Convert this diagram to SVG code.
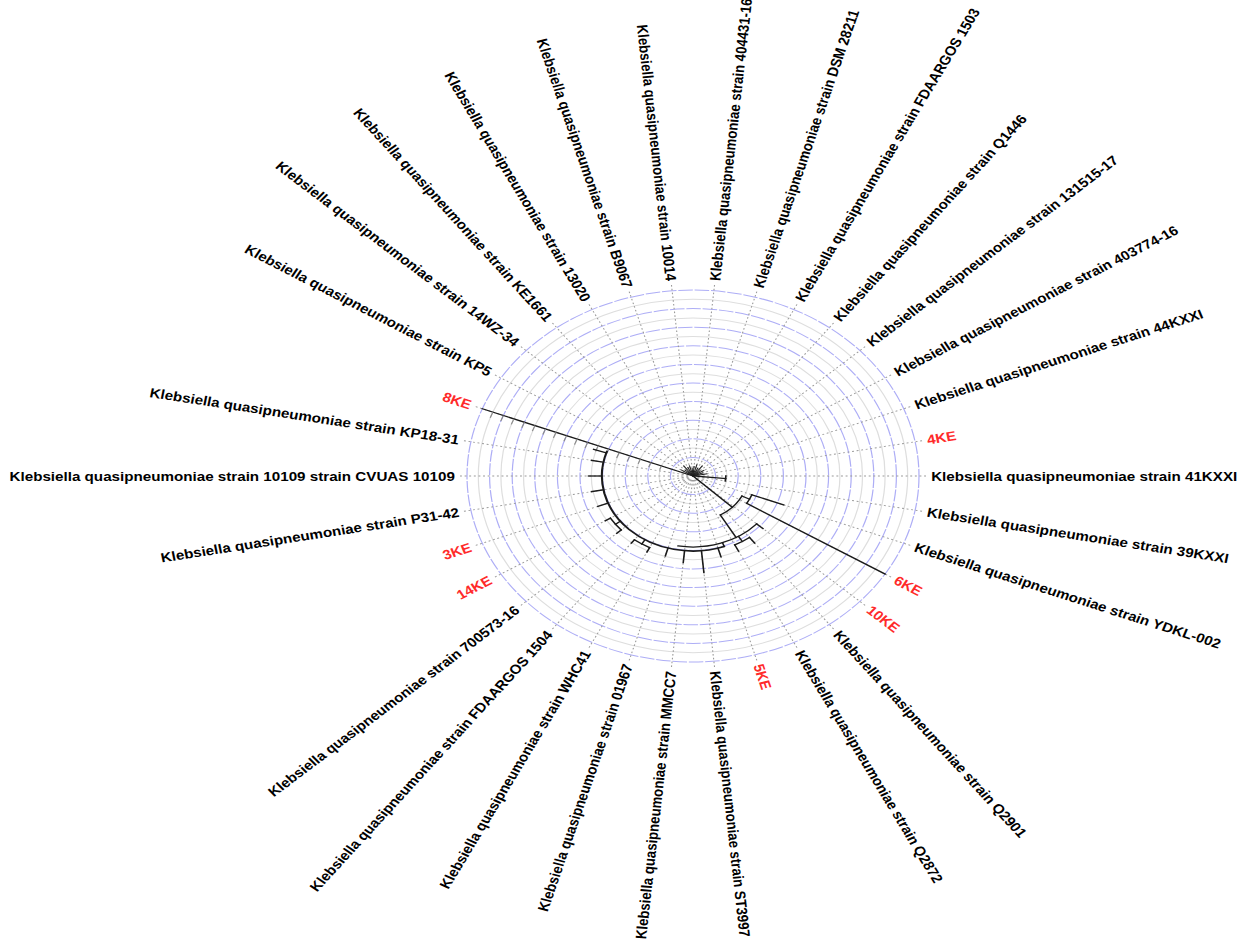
<svg xmlns="http://www.w3.org/2000/svg" width="1248" height="945" viewBox="0 0 1248 945">
<style>
.rg{fill:none;stroke:#dedede;stroke-width:1}
.rb{fill:none;stroke:#aeaef6;stroke-width:1;stroke-dasharray:12 1.5}
.rad{stroke:#9a9a9a;stroke-width:0.9;stroke-dasharray:1.6 2.2}
.br{stroke:#1a1a1a;stroke-width:1.3;fill:none;stroke-linecap:square}
.sb{stroke:#222;stroke-width:0.9}
.tk{stroke:#8a8a8a;stroke-width:1}
.lab{font-family:"Liberation Sans",Arial,sans-serif;font-weight:bold;font-size:13.2px;fill:#000}
.red{font-family:"Liberation Sans",Arial,sans-serif;font-weight:bold;font-size:13.2px;fill:#ff2a2a}
</style>
<rect width="1248" height="945" fill="#fff"/>
<g transform="translate(693,476) scale(1.215,1)">
<g id="rings">
<circle class="rg" r="9.3"/><circle class="rb" r="18.6"/><circle class="rg" r="27.9"/><circle class="rb" r="37.2"/>
<circle class="rg" r="46.5"/><circle class="rb" r="55.8"/><circle class="rg" r="65.1"/><circle class="rb" r="74.4"/>
<circle class="rg" r="83.7"/><circle class="rb" r="93"/><circle class="rg" r="102.3"/><circle class="rb" r="111.6"/>
<circle class="rg" r="120.9"/><circle class="rb" r="130.2"/><circle class="rg" r="139.5"/><circle class="rb" r="148.8"/>
<circle class="rg" r="158.1"/><circle class="rb" r="167.4"/><circle class="rg" r="176.7"/><circle class="rb" r="186"/>
</g>
<g id="radials">
<line class="rad" x1="4" x2="194" transform="rotate(-84.7)"/>
<line class="rad" x1="4" x2="194" transform="rotate(-74.1)"/>
<line class="rad" x1="4" x2="194" transform="rotate(-63.5)"/>
<line class="rad" x1="4" x2="194" transform="rotate(-52.9)"/>
<line class="rad" x1="4" x2="194" transform="rotate(-42.4)"/>
<line class="rad" x1="4" x2="194" transform="rotate(-31.8)"/>
<line class="rad" x1="4" x2="194" transform="rotate(-21.2)"/>
<line class="rad" x1="4" x2="194" transform="rotate(-10.6)"/>
<line class="rad" x1="4" x2="194" transform="rotate(0)"/>
<line class="rad" x1="4" x2="194" transform="rotate(10.6)"/>
<line class="rad" x1="4" x2="194" transform="rotate(21.2)"/>
<line class="rad" x1="4" x2="194" transform="rotate(31.8)"/>
<line class="rad" x1="4" x2="194" transform="rotate(42.4)"/>
<line class="rad" x1="4" x2="194" transform="rotate(52.9)"/>
<line class="rad" x1="4" x2="194" transform="rotate(63.5)"/>
<line class="rad" x1="4" x2="194" transform="rotate(74.1)"/>
<line class="rad" x1="4" x2="194" transform="rotate(84.7)"/>
<line class="rad" x1="4" x2="194" transform="rotate(95.3)"/>
<line class="rad" x1="4" x2="194" transform="rotate(105.9)"/>
<line class="rad" x1="4" x2="194" transform="rotate(116.5)"/>
<line class="rad" x1="4" x2="194" transform="rotate(127.1)"/>
<line class="rad" x1="4" x2="194" transform="rotate(137.6)"/>
<line class="rad" x1="4" x2="194" transform="rotate(148.2)"/>
<line class="rad" x1="4" x2="194" transform="rotate(158.8)"/>
<line class="rad" x1="4" x2="194" transform="rotate(169.4)"/>
<line class="rad" x1="4" x2="194" transform="rotate(180)"/>
<line class="rad" x1="4" x2="194" transform="rotate(190.6)"/>
<line class="rad" x1="4" x2="194" transform="rotate(201.2)"/>
<line class="rad" x1="4" x2="194" transform="rotate(211.8)"/>
<line class="rad" x1="4" x2="194" transform="rotate(222.4)"/>
<line class="rad" x1="4" x2="194" transform="rotate(232.9)"/>
<line class="rad" x1="4" x2="194" transform="rotate(243.5)"/>
<line class="rad" x1="4" x2="194" transform="rotate(254.1)"/>
<line class="rad" x1="4" x2="194" transform="rotate(264.7)"/>
</g>
<g id="connectors">
<line class="sb" x2="10" transform="rotate(-84.7)"/>
<line class="sb" x2="12" transform="rotate(-74.1)"/>
<line class="sb" x2="9" transform="rotate(-63.5)"/>
<line class="sb" x2="13" transform="rotate(-52.9)"/>
<line class="sb" x2="8" transform="rotate(-42.4)"/>
<line class="sb" x2="11" transform="rotate(-31.8)"/>
<line class="sb" x2="9" transform="rotate(-21.2)"/>
<line class="sb" x2="12" transform="rotate(-10.6)"/>
<line class="sb" x2="12" transform="rotate(211.8)"/>
<line class="sb" x2="9" transform="rotate(222.4)"/>
<line class="sb" x2="13" transform="rotate(232.9)"/>
<line class="sb" x2="10" transform="rotate(243.5)"/>
<line class="sb" x2="11" transform="rotate(254.1)"/>
<line class="sb" x2="8" transform="rotate(264.7)"/>
<line class="br" x2="27" transform="rotate(5.3)"/>
<path class="br" d="M27,0 A27,27 0 0 1 26.54,4.97"/>
<line class="br" x2="186" transform="rotate(201.2)"/>
<g class="tk" transform="rotate(201.2)">
<line x1="27.9" x2="27.9" y2="-4"/><line x1="37.2" x2="37.2" y2="-5"/><line x1="46.5" x2="46.5" y2="-5"/>
<line x1="55.8" x2="55.8" y2="-6"/><line x1="65.1" x2="65.1" y2="-6"/><line x1="74.4" x2="74.4" y2="-6"/>
<line x1="83.7" x2="83.7" y2="-6"/><line x1="93" x2="93" y2="-6"/><line x1="102.3" x2="102.3" y2="-6"/>
<line x1="111.6" x2="111.6" y2="-6"/><line x1="120.9" x2="120.9" y2="-6"/><line x1="130.2" x2="130.2" y2="-6"/>
<line x1="139.5" x2="139.5" y2="-6"/><line x1="148.8" x2="148.8" y2="-6"/><line x1="158.1" x2="158.1" y2="-6"/>
<line x1="167.4" x2="167.4" y2="-6"/><line x1="176.7" x2="176.7" y2="-6"/>
</g>
<line class="br" x2="45" transform="rotate(44)"/>
<path class="br" d="M40.27,20.08 A45,45 0 0 1 22.5,38.97"/>
<line class="br" x1="45" x2="52" transform="rotate(26.5)"/>
<path class="br" d="M48.48,18.80 A52,52 0 0 1 44.19,27.40"/>
<line class="br" x1="52" x2="80" transform="rotate(21.2)"/>
<line class="br" x1="52" x2="186" transform="rotate(31.8)"/>
<line class="br" x1="45" x2="71" transform="rotate(60)"/>
<path class="br" d="M52.43,47.87 A71,71 0 0 1 -12.33,69.92"/>
<line class="br" x1="71" x2="78" transform="rotate(42.4)"/>
<line class="br" x1="71" x2="77" transform="rotate(58.2)"/>
<path class="br" d="M46.45,61.42 A77,77 0 0 1 34.36,68.91"/>
<line class="br" x1="77" x2="84" transform="rotate(52.9)"/>
<line class="br" x1="77" x2="84" transform="rotate(63.5)"/>
<line class="br" x1="71" x2="75" transform="rotate(70)"/>
<path class="br" style="stroke-width:1.7" d="M25.65,70.48 A75,75 0 0 1 -70.91,-24.42"/>
<line class="br" x1="75" x2="84" transform="rotate(74.1)"/>
<line class="br" x1="75" x2="97" transform="rotate(84.7)"/>
<line class="br" x1="75" x2="87" transform="rotate(95.3)"/>
<line class="br" x1="75" x2="83" transform="rotate(105.9)"/>
<line class="br" x1="75" x2="80" transform="rotate(121.8)"/>
<path class="br" d="M-35.70,71.59 A80,80 0 0 1 -48.26,63.81"/>
<line class="br" x1="80" x2="85" transform="rotate(116.5)"/>
<line class="br" x1="80" x2="84" transform="rotate(127.1)"/>
<line class="br" x1="75" x2="80" transform="rotate(142.9)"/>
<path class="br" d="M-59.08,53.94 A80,80 0 0 1 -67.99,42.16"/>
<line class="br" x1="80" x2="85" transform="rotate(137.6)"/>
<line class="br" x1="80" x2="85" transform="rotate(148.2)"/>
<line class="br" x1="75" x2="84" transform="rotate(158.8)"/>
<line class="br" x1="75" x2="85" transform="rotate(169.4)"/>
<line class="br" x1="75" x2="86" transform="rotate(180)"/>
<line class="br" x1="75" x2="85" transform="rotate(190.6)"/>
<line class="br" x1="75" x2="86" transform="rotate(198)"/>
</g>
</g>
<g transform="translate(693,476) scale(1.15,1)">
<g id="leaf01"><text class="lab" dy="0.35em" transform="translate(19.13,-195.16) rotate(-84.40)">Klebsiella quasipneumoniae strain 404431-16</text></g>
<g id="leaf02"><text class="lab" dy="0.35em" transform="translate(56.75,-188.49) rotate(-73.25)">Klebsiella quasipneumoniae strain DSM 28211</text></g>
<g id="leaf03"><text class="lab" dy="0.35em" transform="translate(92.41,-175.40) rotate(-62.22)">Klebsiella quasipneumoniae strain FDAARGOS 1503</text></g>
<g id="leaf04"><text class="lab" dy="0.35em" transform="translate(124.92,-156.33) rotate(-51.37)">Klebsiella quasipneumoniae strain Q1446</text></g>
<g id="leaf05"><text class="lab" dy="0.35em" transform="translate(152.94,-132.16) rotate(-40.84)">Klebsiella quasipneumoniae strain 131515-17</text></g>
<g id="leaf06"><text class="lab" dy="0.35em" transform="translate(176.01,-103.29) rotate(-30.41)">Klebsiella quasipneumoniae strain 403774-16</text></g>
<g id="leaf07"><text class="lab" dy="0.35em" transform="translate(193.08,-70.87) rotate(-20.16)">Klebsiella quasipneumoniae strain 44KXXI</text></g>
<g id="leaf08"><text class="red" dy="0.35em" transform="translate(203.56,-36.06) rotate(-10.05)">4KE</text></g>
<g id="leaf09"><text class="lab" dy="0.35em" transform="translate(207.1,0)">Klebsiella quasipneumoniae strain 41KXXI</text></g>
<g id="leaf10"><text class="lab" dy="0.35em" transform="translate(203.56,36.06) rotate(10.05)">Klebsiella quasipneumoniae strain 39KXXI</text></g>
<g id="leaf11"><text class="lab" dy="0.35em" transform="translate(193.08,70.87) rotate(20.16)">Klebsiella quasipneumoniae strain YDKL-002</text></g>
<g id="leaf12"><text class="red" dy="0.35em" transform="translate(176.01,103.29) rotate(30.41)">6KE</text></g>
<g id="leaf13"><text class="red" dy="0.35em" transform="translate(152.94,132.16) rotate(40.84)">10KE</text></g>
<g id="leaf14"><text class="lab" dy="0.35em" transform="translate(124.92,156.33) rotate(51.37)">Klebsiella quasipneumoniae strain Q2901</text></g>
<g id="leaf15"><text class="lab" dy="0.35em" transform="translate(92.41,175.40) rotate(62.22)">Klebsiella quasipneumoniae strain Q2872</text></g>
<g id="leaf16"><text class="red" dy="0.35em" transform="translate(56.75,188.49) rotate(73.25)">5KE</text></g>
<g id="leaf17"><text class="lab" dy="0.35em" transform="translate(19.13,195.16) rotate(84.40)">Klebsiella quasipneumoniae strain ST3997</text></g>
<g id="leaf18"><text class="lab" dy="0.35em" text-anchor="end" transform="translate(-19.13,195.16) rotate(-84.40)">Klebsiella quasipneumoniae strain MMCC7</text></g>
<g id="leaf19"><text class="lab" dy="0.35em" text-anchor="end" transform="translate(-56.75,188.49) rotate(-73.25)">Klebsiella quasipneumoniae strain 01967</text></g>
<g id="leaf20"><text class="lab" dy="0.35em" text-anchor="end" transform="translate(-92.41,175.40) rotate(-62.22)">Klebsiella quasipneumoniae strain WHC41</text></g>
<g id="leaf21"><text class="lab" dy="0.35em" text-anchor="end" transform="translate(-124.92,156.33) rotate(-51.37)">Klebsiella quasipneumoniae strain FDAARGOS 1504</text></g>
<g id="leaf22"><text class="lab" dy="0.35em" text-anchor="end" transform="translate(-152.94,132.16) rotate(-40.84)">Klebsiella quasipneumoniae strain 700573-16</text></g>
<g id="leaf23"><text class="red" dy="0.35em" text-anchor="end" transform="translate(-176.01,103.29) rotate(-30.41)">14KE</text></g>
<g id="leaf24"><text class="red" dy="0.35em" text-anchor="end" transform="translate(-193.08,70.87) rotate(-20.16)">3KE</text></g>
<g id="leaf25"><text class="lab" dy="0.35em" text-anchor="end" transform="translate(-203.56,36.06) rotate(-10.05)">Klebsiella quasipneumoniae strain P31-42</text></g>
<g id="leaf26"><text class="lab" dy="0.35em" text-anchor="end" transform="translate(-207.1,0)">Klebsiella quasipneumoniae strain 10109 strain CVUAS 10109</text></g>
<g id="leaf27"><text class="lab" dy="0.35em" text-anchor="end" transform="translate(-203.56,-36.06) rotate(10.05)">Klebsiella quasipneumoniae strain KP18-31</text></g>
<g id="leaf28"><text class="red" dy="0.35em" text-anchor="end" transform="translate(-193.08,-70.87) rotate(20.16)">8KE</text></g>
<g id="leaf29"><text class="lab" dy="0.35em" text-anchor="end" transform="translate(-176.01,-103.29) rotate(30.41)">Klebsiella quasipneumoniae strain KP5</text></g>
<g id="leaf30"><text class="lab" dy="0.35em" text-anchor="end" transform="translate(-152.94,-132.16) rotate(40.84)">Klebsiella quasipneumoniae strain 14WZ-34</text></g>
<g id="leaf31"><text class="lab" dy="0.35em" text-anchor="end" transform="translate(-124.92,-156.33) rotate(51.37)">Klebsiella quasipneumoniae strain KE1661</text></g>
<g id="leaf32"><text class="lab" dy="0.35em" text-anchor="end" transform="translate(-92.41,-175.40) rotate(62.22)">Klebsiella quasipneumoniae strain 13020</text></g>
<g id="leaf33"><text class="lab" dy="0.35em" text-anchor="end" transform="translate(-56.75,-188.49) rotate(73.25)">Klebsiella quasipneumoniae strain B9067</text></g>
<g id="leaf34"><text class="lab" dy="0.35em" text-anchor="end" transform="translate(-19.13,-195.16) rotate(84.40)">Klebsiella quasipneumoniae strain 10014</text></g>
</g>
</svg>
